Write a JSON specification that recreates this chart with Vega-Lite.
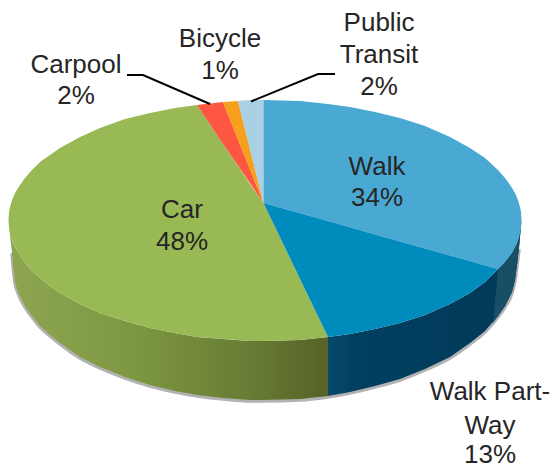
{"$schema":"https://vega.github.io/schema/vega-lite/v6.json","autosize":{"type":"none"},"width":551,"height":468,"padding":0,"background":"white","config":{"view":{"stroke":null}},
"datasets":{
"slices":[
{"part":"Car","x":8.5,"y":220,"y2":220},{"part":"Car","x":9,"y":212,"y2":228},{"part":"Car","x":10,"y":207,"y2":233},{"part":"Car","x":12,"y":200,"y2":240},{"part":"Car","x":15,"y":193,"y2":247},{"part":"Car","x":20,"y":185,"y2":256},{"part":"Car","x":25,"y":178,"y2":263},{"part":"Car","x":32,"y":170,"y2":271},{"part":"Car","x":40,"y":162,"y2":278},{"part":"Car","x":50,"y":155,"y2":286},{"part":"Car","x":60,"y":148,"y2":293},{"part":"Car","x":80,"y":137,"y2":304},{"part":"Car","x":100,"y":128,"y2":313},{"part":"Car","x":125,"y":119,"y2":321},{"part":"Car","x":150,"y":113,"y2":328},{"part":"Car","x":175,"y":108,"y2":333},{"part":"Car","x":197,"y":105,"y2":337},{"part":"Car","x":223,"y":144,"y2":339},{"part":"Car","x":238,"y":166,"y2":340},{"part":"Car","x":250,"y":184,"y2":341},{"part":"Car","x":263.5,"y":203,"y2":341},{"part":"Car","x":300,"y":279,"y2":340},{"part":"Car","x":328,"y":337,"y2":337},
{"part":"Carpool","x":197,"y":105,"y2":105},{"part":"Carpool","x":223,"y":102,"y2":144},{"part":"Carpool","x":263.5,"y":203,"y2":203},
{"part":"Bicycle","x":223,"y":102,"y2":102},{"part":"Bicycle","x":238,"y":101,"y2":140},{"part":"Bicycle","x":263.5,"y":203,"y2":203},
{"part":"Public Transit","x":238,"y":101,"y2":101},{"part":"Public Transit","x":250,"y":100,"y2":150},{"part":"Public Transit","x":263.5,"y":100,"y2":203},
{"part":"Walk","x":263.5,"y":100,"y2":203},{"part":"Walk","x":300,"y":101,"y2":213.3},{"part":"Walk","x":328,"y":104,"y2":221},{"part":"Walk","x":350,"y":107,"y2":227.3},{"part":"Walk","x":375,"y":112,"y2":234.4},{"part":"Walk","x":400,"y":118,"y2":241.4},{"part":"Walk","x":425,"y":126,"y2":248.5},{"part":"Walk","x":450,"y":137,"y2":255.5},{"part":"Walk","x":470,"y":148,"y2":261},{"part":"Walk","x":485,"y":158,"y2":265.4},{"part":"Walk","x":498,"y":170,"y2":269},{"part":"Walk","x":505,"y":178,"y2":262},{"part":"Walk","x":508,"y":182,"y2":258},{"part":"Walk","x":512,"y":188,"y2":253},{"part":"Walk","x":515,"y":193,"y2":247},{"part":"Walk","x":518,"y":200,"y2":240},{"part":"Walk","x":520,"y":207,"y2":233},{"part":"Walk","x":521,"y":212,"y2":228},{"part":"Walk","x":521.5,"y":220,"y2":220},
{"part":"Walk Part-Way","x":263.5,"y":203,"y2":203},{"part":"Walk Part-Way","x":300,"y":213.3,"y2":279},{"part":"Walk Part-Way","x":328,"y":221,"y2":337},{"part":"Walk Part-Way","x":350,"y":227.3,"y2":334},{"part":"Walk Part-Way","x":375,"y":234.4,"y2":329},{"part":"Walk Part-Way","x":400,"y":241.4,"y2":323},{"part":"Walk Part-Way","x":425,"y":248.5,"y2":315},{"part":"Walk Part-Way","x":450,"y":255.5,"y2":304},{"part":"Walk Part-Way","x":470,"y":261,"y2":293},{"part":"Walk Part-Way","x":485,"y":265.4,"y2":282},{"part":"Walk Part-Way","x":498,"y":269,"y2":269}
],
"walls":[
{"part":"green","x":8.5,"y":220,"y2":220},{"part":"green","x":10,"y":233,"y2":236},{"part":"green","x":12,"y":240,"y2":252},{"part":"green","x":13,"y":243,"y2":265},{"part":"green","x":15,"y":247,"y2":282},{"part":"green","x":18,"y":252,"y2":292},{"part":"green","x":25,"y":263,"y2":306},{"part":"green","x":32,"y":271,"y2":316},{"part":"green","x":40,"y":278,"y2":326},{"part":"green","x":50,"y":286,"y2":335},{"part":"green","x":60,"y":293,"y2":343},{"part":"green","x":80,"y":304,"y2":357},{"part":"green","x":100,"y":313,"y2":367},{"part":"green","x":125,"y":321,"y2":377},{"part":"green","x":150,"y":328,"y2":385},{"part":"green","x":175,"y":333,"y2":391},{"part":"green","x":197,"y":337,"y2":395},{"part":"green","x":223,"y":339,"y2":398},{"part":"green","x":250,"y":341,"y2":400},{"part":"green","x":263,"y":341,"y2":400},{"part":"green","x":300,"y":340,"y2":399},{"part":"green","x":328,"y":337,"y2":396},
{"part":"blue","x":328,"y":337,"y2":396},{"part":"blue","x":350,"y":334,"y2":392},{"part":"blue","x":375,"y":329,"y2":386},{"part":"blue","x":400,"y":323,"y2":379},{"part":"blue","x":425,"y":315,"y2":369},{"part":"blue","x":450,"y":304,"y2":357},{"part":"blue","x":470,"y":293,"y2":343},{"part":"blue","x":485,"y":282,"y2":331},{"part":"blue","x":498,"y":269,"y2":316},{"part":"blue","x":505,"y":262,"y2":306},{"part":"blue","x":512,"y":253,"y2":292},{"part":"blue","x":515,"y":247,"y2":280},{"part":"blue","x":517,"y":243,"y2":265},{"part":"blue","x":519,"y":237,"y2":248},{"part":"blue","x":521.5,"y":220,"y2":220}
],
"end":[
{"x":493,"y":323,"y2":323},{"x":498,"y":269,"y2":316},{"x":505,"y":262,"y2":306},{"x":512,"y":253,"y2":292},{"x":515,"y":247,"y2":280},{"x":517,"y":243,"y2":265},{"x":519,"y":237,"y2":248},{"x":521.5,"y":220,"y2":220}
],
"leaders":[
{"part":"Carpool","x":127,"y":75},{"part":"Carpool","x":143,"y":75},{"part":"Carpool","x":210,"y":104},
{"part":"Public Transit","x":251,"y":101.5},{"part":"Public Transit","x":318,"y":74},{"part":"Public Transit","x":335,"y":74}
],
"labels":[
{"text":"Walk","x":377,"y":167},{"text":"34%","x":377,"y":198},
{"text":"Car","x":182,"y":210},{"text":"48%","x":182,"y":242},
{"text":"Carpool","x":76,"y":65},{"text":"2%","x":76,"y":96},
{"text":"Bicycle","x":220,"y":39},{"text":"1%","x":220,"y":71},
{"text":"Public","x":379,"y":23},{"text":"Transit","x":379,"y":55},{"text":"2%","x":379,"y":87},
{"text":"Walk Part-","x":490,"y":392},{"text":"Way","x":490,"y":426},{"text":"13%","x":490,"y":455}
]
},
"encoding":{
"x":{"field":"x","type":"quantitative","scale":{"domain":[0,551],"nice":false,"zero":false},"axis":null},
"y":{"field":"y","type":"quantitative","scale":{"domain":[0,468],"reverse":true,"nice":false,"zero":false},"axis":null}
},
"layer":[
{"data":{"name":"walls"},"transform":[{"filter":"datum.y2>240"}],"mark":{"type":"line","stroke":"#555555","strokeWidth":3.5,"opacity":0.45,"yOffset":1,"interpolate":"monotone"},"encoding":{"y":{"field":"y2","type":"quantitative"},"detail":{"field":"part"}}},
{"data":{"name":"walls"},"transform":[{"filter":"datum.part==='green'"}],"mark":{"type":"area","color":{"gradient":"linear","x1":0,"y1":0,"x2":1,"y2":0,"stops":[{"offset":0,"color":"#8ea651"},{"offset":0.4,"color":"#7d9740"},{"offset":0.75,"color":"#687c35"},{"offset":1,"color":"#566226"}]}},"encoding":{"y2":{"field":"y2"}}},
{"data":{"name":"walls"},"transform":[{"filter":"datum.part==='blue'"}],"mark":{"type":"area","color":{"gradient":"linear","x1":0,"y1":0,"x2":1,"y2":0,"stops":[{"offset":0,"color":"#064a6c"},{"offset":0.15,"color":"#023f60"},{"offset":1,"color":"#003a58"}]}},"encoding":{"y2":{"field":"y2"}}},
{"data":{"name":"end"},"mark":{"type":"area","color":"#194f66"},"encoding":{"y2":{"field":"y2"}}},
{"data":{"name":"slices"},"mark":{"type":"area"},"encoding":{"y2":{"field":"y2"},"color":{"field":"part","type":"nominal","legend":null,"scale":{"domain":["Car","Carpool","Bicycle","Public Transit","Walk","Walk Part-Way"],"range":["#99b955","#fe5741","#f8a01e","#a9d0e3","#4aa9d2","#008bbd"]}}}},
{"data":{"name":"leaders"},"mark":{"type":"line","color":"#000000","strokeWidth":2},"encoding":{"detail":{"field":"part"}}},
{"data":{"name":"labels"},"mark":{"type":"text","font":"Liberation Sans","fontSize":26,"color":"#262626","align":"center","baseline":"middle"},"encoding":{"text":{"field":"text"}}}
]}
